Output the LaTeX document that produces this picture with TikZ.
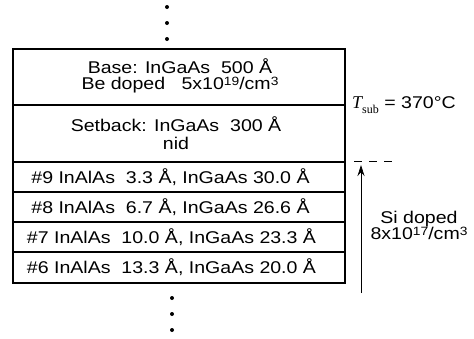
\documentclass[tikz,border=0pt]{standalone}
\usepackage{fontspec}
\setmainfont[FakeStretch=1.15]{Liberation Sans}
\newfontfamily\serifT{Liberation Serif}
\usetikzlibrary{arrows.meta}
\newcommand{\supx}[1]{\raisebox{4pt}{\fontsize{12}{12}\selectfont #1}}
\begin{document}
\begin{tikzpicture}[x=1pt,y=-1pt,
  layerbox/.style={draw,line width=1.1pt,minimum width=332pt,inner sep=0pt,outer sep=0pt},
  txt/.style={inner sep=0pt,font=\fontsize{17}{16}\selectfont,align=center},
  vdot/.style={fill,circle,inner sep=0pt,minimum size=4pt}]
\useasboundingbox (0,0) rectangle (474,338);
% top dots
\node[vdot] (d1) at (167,7) {};
\node[vdot] (d2) at (167,23) {};
\node[vdot] (d3) at (167,39) {};
% layer boxes
\node[layerbox,minimum height=56pt] (base) at (179,77) {};
\node[layerbox,minimum height=57pt] (setb) at (179,133.5) {};
\node[layerbox,minimum height=30pt] (r9) at (179,177) {};
\node[layerbox,minimum height=30pt] (r8) at (179,207) {};
\node[layerbox,minimum height=30pt] (r7) at (179,237) {};
\node[layerbox,minimum height=31pt] (r6) at (179,267.5) {};
% texts
\node[txt] (tbase) at (180,76) {Base: InGaAs\ \ 500 Å\\Be doped\ \ \ 5x10\supx{19}/cm\supx{3}};
\node[txt,font=\fontsize{17}{18}\selectfont] (tsetb) at (176,133) {Setback: InGaAs\ \ 300 Å\\nid};
\node[txt] (t9) at (170.5,177) {\#9 InAlAs\ \ 3.3 Å, InGaAs 30.0 Å};
\node[txt] (t8) at (170.5,207) {\#8 InAlAs\ \ 6.7 Å, InGaAs 26.6 Å};
\node[txt] (t7) at (171.5,237) {\#7 InAlAs\ \ 10.0 Å, InGaAs 23.3 Å};
\node[txt] (t6) at (171.5,267.5) {\#6 InAlAs\ \ 13.3 Å, InGaAs 20.0 Å};
% bottom dots
\node[vdot] (d4) at (172,298) {};
\node[vdot] (d5) at (172,314) {};
\node[vdot] (d6) at (172,330) {};
% right side
\node[txt,anchor=west] (tsub) at (352,105) {{\serifT\fontsize{18}{18}\selectfont\itshape T}\raisebox{-0.25em}{\serifT\fontsize{12}{12}\selectfont sub} = 370°C};
\coordinate (dashA) at (354,161);
\coordinate (dashB) at (393,161);
\draw[line width=1pt,dash pattern=on 8pt off 7pt] (dashA) -- (dashB);
\coordinate (arrBot) at (361,293);
\coordinate (arrTop) at (361,165);
\draw[line width=0.8pt,-{Stealth[length=11pt,width=7pt]}] (arrBot) -- (arrTop);
\node[txt] (tsi) at (419,225) {Si doped\\8x10\supx{17}/cm\supx{3}};
\end{tikzpicture}
\end{document}
